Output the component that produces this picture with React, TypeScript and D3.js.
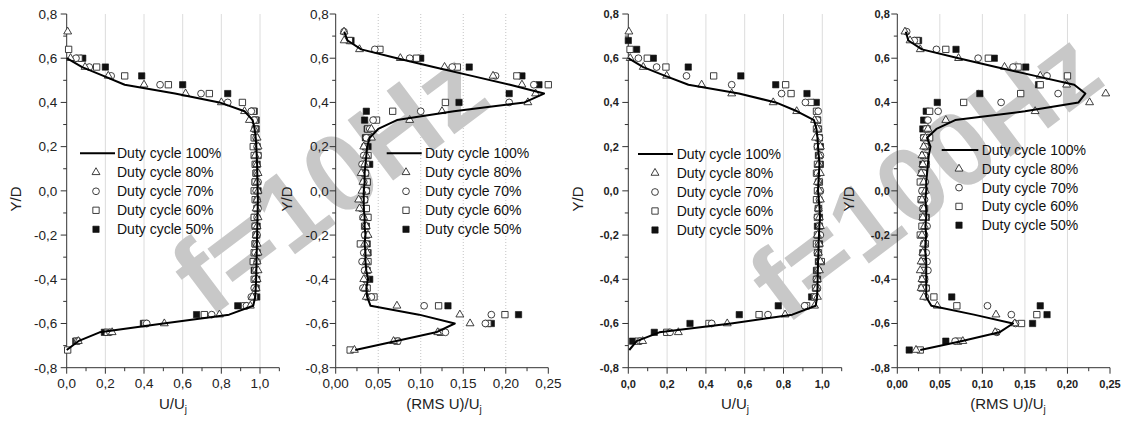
import React from "react";
import * as d3 from "d3";

// Radial stations Y/D, shared by every profile
const yPositions = [
  0.72, 0.68, 0.64, 0.6, 0.56, 0.52, 0.48, 0.44, 0.4, 0.36, 0.32, 0.28, 0.24,
  0.2, 0.16, 0.12, 0.08, 0.04, 0.0, -0.04, -0.08, -0.12, -0.16, -0.2, -0.24,
  -0.28, -0.32, -0.36, -0.4, -0.44, -0.48, -0.52, -0.56, -0.6, -0.64, -0.68, -0.72,
];

const seriesLabels = [
  "Duty cycle 100%",
  "Duty cycle 80%",
  "Duty cycle 70%",
  "Duty cycle 60%",
  "Duty cycle 50%",
];

// f = 10 Hz, mean velocity U/Uj
const u10Dc100 = [null, null, null, 0.0, 0.08, 0.19, 0.3, 0.56, 0.79, 0.92, 0.962, 0.972, 0.978, 0.981, 0.983, 0.985, 0.986, 0.987, 0.988, 0.989, 0.988, 0.987, 0.986, 0.985, 0.984, 0.983, 0.982, 0.981, 0.98, 0.978, 0.975, 0.965, 0.84, 0.5, 0.17, 0.06, 0.0];
const u10Dc80 = [0.005, null, null, 0.02, 0.095, 0.215, 0.4, 0.615, 0.8, 0.92, 0.945, 0.97, 0.985, 0.99, 0.975, 0.985, 0.99, 0.985, 0.99, 0.985, 0.98, 0.99, 0.985, 0.98, 0.985, 0.99, 0.985, 0.99, 0.985, 0.98, 0.96, 0.95, 0.79, 0.505, 0.235, 0.06, null];
const u10Dc70 = [null, null, null, 0.048, 0.117, 0.23, 0.483, 0.695, 0.833, 0.955, 0.97, 0.975, 0.98, 0.985, 0.99, 0.98, 0.985, 0.99, 0.98, 0.985, 0.99, 0.985, 0.975, 0.985, 0.98, 0.975, 0.985, 0.98, 0.975, 0.97, 0.955, 0.93, 0.75, 0.414, 0.224, 0.057, null];
const u10Dc60 = [null, null, 0.01, 0.064, 0.155, 0.3, 0.526, 0.738, 0.909, 0.965, 0.975, 0.975, 0.97, 0.965, 0.97, 0.975, 0.98, 0.975, 0.97, 0.975, 0.985, 0.97, 0.975, 0.98, 0.975, 0.97, 0.965, 0.975, 0.97, 0.975, 0.97, 0.92, 0.712, 0.405, 0.21, 0.052, 0.005];
const u10Dc50 = [null, null, null, 0.083, 0.2, 0.388, 0.6, 0.833, null, 0.97, 0.98, 0.98, 0.975, 0.985, 0.99, 0.985, 0.98, 0.975, 0.99, 0.98, 0.985, 0.975, 0.985, 0.98, 0.975, 0.985, 0.97, 0.97, 0.983, 0.98, 0.983, 0.885, 0.672, 0.397, 0.195, 0.047, null];

// f = 10 Hz, turbulence intensity (RMS U)/Uj
const r10Dc100 = [0.01, 0.014, 0.03, 0.072, 0.115, 0.16, 0.205, 0.245, 0.222, 0.139, 0.072, 0.05, 0.04, 0.037, 0.036, 0.035, 0.034, 0.034, 0.033, 0.033, 0.033, 0.034, 0.034, 0.035, 0.034, 0.035, 0.035, 0.036, 0.038, 0.036, 0.037, 0.041, 0.098, 0.14, 0.118, 0.07, 0.023];
const r10Dc80 = [0.0098, 0.01, 0.028, 0.076, 0.128, 0.185, 0.219, 0.235, 0.226, 0.125, 0.087, 0.042, 0.042, 0.033, 0.036, 0.034, 0.03, 0.032, 0.031, 0.027, 0.028, 0.033, 0.036, 0.038, 0.034, 0.037, 0.036, 0.038, 0.033, 0.034, 0.036, 0.072, 0.146, 0.158, 0.12, 0.068, 0.022];
const r10Dc70 = [0.0098, null, 0.046, 0.087, 0.137, 0.188, 0.233, null, 0.204, 0.1, 0.044, 0.04, 0.036, 0.034, 0.033, 0.031, 0.035, 0.033, 0.036, 0.034, 0.03, 0.032, 0.035, 0.034, 0.036, 0.033, 0.031, 0.034, 0.035, 0.032, 0.042, 0.104, 0.183, 0.176, 0.129, 0.073, null];
const r10Dc60 = [null, 0.016, 0.052, 0.095, 0.143, 0.213, 0.25, null, 0.129, 0.067, 0.048, 0.038, 0.037, 0.035, 0.038, 0.036, 0.034, 0.037, 0.035, 0.033, 0.036, 0.038, 0.034, 0.036, 0.029, 0.037, 0.038, 0.035, 0.036, 0.037, 0.045, 0.121, 0.199, 0.179, 0.123, 0.072, 0.017];
const r10Dc50 = [null, 0.018, null, 0.1, 0.157, 0.219, 0.239, 0.204, 0.145, 0.036, 0.034, 0.037, 0.035, 0.038, 0.036, 0.04, 0.035, 0.037, 0.036, 0.034, 0.035, 0.037, 0.036, 0.035, 0.037, 0.038, 0.036, 0.037, 0.04, 0.036, 0.038, 0.132, 0.215, 0.183, null, null, null];

// f = 100 Hz, mean velocity U/Uj
const u100Dc100 = [null, null, null, 0.0, 0.077, 0.19, 0.31, 0.57, 0.76, 0.87, 0.957, 0.97, 0.975, 0.978, 0.982, 0.985, 0.983, 0.98, 0.978, 0.982, 0.986, 0.988, 0.985, 0.983, 0.981, 0.98, 0.978, 0.977, 0.976, 0.975, 0.973, 0.966, 0.845, 0.53, 0.16, 0.043, 0.005];
const u100Dc80 = [0.003, null, null, 0.01, 0.077, 0.198, 0.378, 0.533, 0.747, 0.868, 0.96, 0.975, 0.965, 0.99, 0.985, 0.98, 0.99, 0.975, 0.985, 0.99, 0.98, 0.985, 0.99, 0.975, 0.985, 0.98, 0.99, 0.985, 0.975, 0.97, 0.975, 0.96, 0.808, 0.51, 0.258, 0.074, null];
const u100Dc70 = [null, null, null, 0.052, 0.146, 0.3, 0.533, 0.79, 0.913, 0.979, 0.975, 0.98, 0.985, 0.975, 0.99, 0.985, 0.975, 0.98, 0.99, 0.985, 0.98, 0.975, 0.985, 0.99, 0.98, 0.975, 0.985, 0.98, 0.97, 0.975, 0.965, 0.909, 0.72, 0.43, 0.215, 0.06, null];
const u100Dc60 = [null, null, 0.009, 0.098, 0.194, 0.44, 0.811, 0.839, 0.941, 0.97, 0.975, 0.97, 0.98, 0.975, 0.985, 0.975, 0.97, 0.985, 0.975, 0.97, 0.98, 0.975, 0.985, 0.975, 0.97, 0.98, 0.995, 0.975, 0.97, 0.965, 0.96, 0.919, 0.674, 0.416, 0.198, 0.052, null];
const u100Dc50 = [null, 0.0, 0.043, 0.129, 0.309, 0.58, 0.76, 0.921, 0.969, null, 0.975, 0.98, 0.985, 0.99, 0.98, 0.99, 0.975, 0.98, 0.985, 0.975, 0.98, 0.985, 0.975, 0.98, 0.985, 0.975, 0.98, 0.97, 0.975, 0.97, 0.945, 0.773, 0.572, 0.318, 0.134, 0.022, null];

// f = 100 Hz, turbulence intensity (RMS U)/Uj
const r100Dc100 = [0.01, 0.013, 0.029, 0.072, 0.116, 0.162, 0.208, 0.221, 0.213, 0.15, 0.068, 0.046, 0.035, 0.039, 0.037, 0.036, 0.035, 0.034, 0.034, 0.033, 0.034, 0.034, 0.033, 0.034, 0.033, 0.033, 0.034, 0.034, 0.034, 0.034, 0.034, 0.04, 0.09, 0.136, 0.12, 0.075, 0.027];
const r100Dc80 = [0.009, 0.015, 0.027, 0.072, 0.126, 0.168, 0.199, 0.245, 0.226, 0.162, 0.057, 0.036, 0.033, 0.031, 0.029, 0.03, 0.028, 0.031, 0.033, 0.029, 0.031, 0.03, 0.032, 0.029, 0.031, 0.03, 0.028, 0.027, 0.029, 0.028, 0.031, 0.047, 0.116, 0.138, 0.115, 0.077, 0.022];
const r100Dc70 = [0.011, 0.02, 0.046, 0.095, 0.136, 0.176, null, 0.189, 0.122, 0.048, 0.036, 0.034, 0.031, 0.033, 0.032, 0.034, 0.031, 0.033, 0.029, 0.032, 0.03, 0.033, 0.035, 0.032, 0.031, 0.034, 0.035, 0.036, 0.032, 0.034, 0.033, 0.106, 0.134, 0.139, 0.117, 0.068, null];
const r100Dc60 = [null, 0.023, 0.057, 0.107, 0.142, 0.2, 0.168, 0.145, 0.078, 0.038, null, 0.035, 0.038, 0.033, 0.031, 0.034, 0.029, 0.027, 0.03, 0.028, 0.032, 0.03, 0.029, 0.027, 0.033, 0.031, 0.03, 0.032, 0.03, 0.029, 0.043, 0.07, 0.164, 0.146, null, 0.072, 0.027];
const r100Dc50 = [null, 0.025, 0.069, 0.114, 0.151, null, 0.166, 0.097, 0.047, 0.034, 0.031, 0.03, 0.031, null, 0.032, 0.03, 0.031, null, 0.032, 0.03, 0.031, 0.034, 0.033, 0.031, 0.032, 0.03, 0.031, 0.033, 0.032, 0.034, 0.064, 0.168, 0.176, 0.159, null, 0.057, 0.014];

// Axis ticks
const yMajorTicks = [0.8, 0.6, 0.4, 0.2, 0.0, -0.2, -0.4, -0.6, -0.8];
const yMinorTicks = [0.7, 0.5, 0.3, 0.1, -0.1, -0.3, -0.5, -0.7];
const meanMajorTicks = [0.0, 0.2, 0.4, 0.6, 0.8, 1.0];
const meanMinorTicks = [0.1, 0.3, 0.5, 0.7, 0.9, 1.1];
const rmsMajorTicks = [0.0, 0.05, 0.1, 0.15, 0.2, 0.25];
const rmsMinorTicks = [0.025, 0.075, 0.125, 0.175, 0.225];

const watermarkLabels = ["f=10Hz", "f=100Hz"];

const FONT = "'Liberation Sans', Arial, Helvetica, sans-serif";
const PLOT_TOP = 14;
const PLOT_BOTTOM = 367.7;

type Values = (number | null)[];

interface PanelConfig {
  left: number;
  unitRight: number; // pixel position of the last major tick
  xMax: number;
  lastMajor: number;
  majorTicks: number[];
  minorTicks: number[];
  decimals: number;
  bold: boolean;
  dotted: boolean;
  gridTicks: number[];
  xTitle: string;
  titleX: number;
  yTitleX: number;
  yLabelGap: number;
  series: Values[];
  legend: { x1: number; x2: number; mx: number; tx: number; y0: number; dy: number };
}

const fmt = (v: number, decimals: number) => v.toFixed(decimals).replace(".", ",");

const triPath = d3.symbol().type(d3.symbolTriangle).size(27)() as string;
const cirPath = d3.symbol().type(d3.symbolCircle).size(36)() as string;
const sqPath = d3.symbol().type(d3.symbolSquare).size(40)() as string;

function Marker({ kind, x, y }: { kind: number; x: number; y: number }) {
  const t = `translate(${x},${y})`;
  if (kind === 1) return <path d={triPath} transform={t} fill="#fff" stroke="#2a2a2a" strokeWidth={0.9} />;
  if (kind === 2) return <path d={cirPath} transform={t} fill="#fff" stroke="#2a2a2a" strokeWidth={0.9} />;
  if (kind === 3) return <path d={sqPath} transform={t} fill="#fff" stroke="#2a2a2a" strokeWidth={0.9} />;
  return <path d={sqPath} transform={t} fill="#111" stroke="#111" strokeWidth={0.6} />;
}

function makeScales(p: PanelConfig) {
  const x = d3
    .scaleLinear()
    .domain([0, p.lastMajor])
    .range([p.left, p.unitRight]);
  const y = d3.scaleLinear().domain([-0.8, 0.8]).range([PLOT_BOTTOM, PLOT_TOP]);
  return { x, y };
}

function PanelGrid({ p }: { p: PanelConfig }) {
  const { x, y } = makeScales(p);
  return (
    <g>
      {p.gridTicks.map((t) => (
        <line
          key={t}
          x1={x(t)}
          x2={x(t)}
          y1={y(0.8)}
          y2={y(-0.8)}
          stroke={p.dotted ? "#c4c4c4" : "#dcdcdc"}
          strokeWidth={1}
          strokeDasharray={p.dotted ? "1,2" : undefined}
        />
      ))}
    </g>
  );
}

function Panel({ p }: { p: PanelConfig }) {
  const { x, y } = makeScales(p);
  const points = (vals: Values) =>
    yPositions
      .map((yy, i) => ({ y: yy, v: vals[i] }))
      .filter((d) => d.v !== null) as { y: number; v: number }[];
  const lineGen = d3
    .line<{ y: number; v: number }>()
    .x((d) => x(d.v))
    .y((d) => y(d.y));
  const weight = p.bold ? 700 : 400;
  const tickFont = p.bold ? 11 : 13.5;
  const axisY = y(-0.8);
  const L = p.legend;

  return (
    <g fontFamily={FONT}>
      {/* y axis */}
      <line x1={p.left} x2={p.left} y1={y(0.8)} y2={axisY} stroke="#333" strokeWidth={1} />
      {yMajorTicks.map((t) => (
        <g key={`ym${t}`}>
          <line x1={p.left - 6} x2={p.left} y1={y(t)} y2={y(t)} stroke="#333" />
          <text
            x={p.left - p.yLabelGap}
            y={y(t)}
            dy="0.36em"
            textAnchor="end"
            fontSize={tickFont}
            fontWeight={weight}
            fill="#222"
          >
            {fmt(t, 1)}
          </text>
        </g>
      ))}
      {yMinorTicks.map((t) => (
        <line key={`yn${t}`} x1={p.left - 3.5} x2={p.left} y1={y(t)} y2={y(t)} stroke="#333" />
      ))}
      <text
        transform={`translate(${p.yTitleX},199) rotate(-90)`}
        textAnchor="middle"
        dy="0.36em"
        fontSize={15}
        fill="#222"
      >
        Y/D
      </text>

      {/* x axis */}
      <line x1={p.left} x2={x(p.xMax)} y1={axisY} y2={axisY} stroke="#333" strokeWidth={1} />
      {p.majorTicks.map((t) => (
        <g key={`xm${t}`}>
          <line x1={x(t)} x2={x(t)} y1={axisY} y2={axisY + 6} stroke="#333" />
          <text
            x={x(t)}
            y={388}
            textAnchor="middle"
            fontSize={tickFont}
            fontWeight={weight}
            fill="#222"
          >
            {fmt(t, p.decimals)}
          </text>
        </g>
      ))}
      {p.minorTicks.map((t) => (
        <line key={`xn${t}`} x1={x(t)} x2={x(t)} y1={axisY} y2={axisY + 3.5} stroke="#333" />
      ))}
      <text x={p.titleX} y={408.5} textAnchor="middle" fontSize={15} fill="#222">
        <tspan>{p.xTitle}</tspan>
        <tspan fontSize={10} dy={4}>
          j
        </tspan>
      </text>

      {/* markers: 50 % first, 80 % last, then the 100 % profile on top */}
      {[4, 3, 2, 1].map((k) =>
        points(p.series[k]).map((d, i) => <Marker key={`m${k}-${i}`} kind={k} x={x(d.v)} y={y(d.y)} />)
      )}
      <path d={lineGen(points(p.series[0])) || ""} fill="none" stroke="#000" strokeWidth={2} strokeLinejoin="round" />

      {/* legend */}
      {seriesLabels.map((label, i) => {
        const ry = L.y0 + i * L.dy;
        return (
          <g key={label}>
            {i === 0 ? (
              <line x1={L.x1} x2={L.x2} y1={ry} y2={ry} stroke="#000" strokeWidth={2} />
            ) : (
              <Marker kind={i} x={L.mx} y={ry} />
            )}
            <text x={L.tx} y={ry} dy="0.36em" fontSize={14} fill="#111">
              {label}
            </text>
          </g>
        );
      })}
    </g>
  );
}

const panels: PanelConfig[] = [
  {
    left: 66.7,
    unitRight: 260,
    lastMajor: 1.0,
    xMax: 1.1,
    majorTicks: meanMajorTicks,
    minorTicks: meanMinorTicks,
    decimals: 1,
    bold: false,
    dotted: false,
    gridTicks: meanMajorTicks.slice(1),
    xTitle: "U/U",
    titleX: 173,
    yTitleX: 16,
    yLabelGap: 9.5,
    series: [u10Dc100, u10Dc80, u10Dc70, u10Dc60, u10Dc50],
    legend: { x1: 80, x2: 115, mx: 96, tx: 117, y0: 153.3, dy: 19 },
  },
  {
    left: 335.7,
    unitRight: 548.3,
    lastMajor: 0.25,
    xMax: 0.25,
    majorTicks: rmsMajorTicks,
    minorTicks: rmsMinorTicks,
    decimals: 2,
    bold: false,
    dotted: true,
    gridTicks: rmsMajorTicks.slice(1, 5),
    xTitle: "(RMS U)/U",
    titleX: 444,
    yTitleX: 287,
    yLabelGap: 7,
    series: [r10Dc100, r10Dc80, r10Dc70, r10Dc60, r10Dc50],
    legend: { x1: 386.7, x2: 421.7, mx: 406, tx: 425, y0: 153.3, dy: 19 },
  },
  {
    left: 628.3,
    unitRight: 822.3,
    lastMajor: 1.0,
    xMax: 1.1,
    majorTicks: meanMajorTicks,
    minorTicks: meanMinorTicks,
    decimals: 1,
    bold: true,
    dotted: false,
    gridTicks: meanMajorTicks.slice(1),
    xTitle: "U/U",
    titleX: 735,
    yTitleX: 578,
    yLabelGap: 9.5,
    series: [u100Dc100, u100Dc80, u100Dc70, u100Dc60, u100Dc50],
    legend: { x1: 638, x2: 673, mx: 655, tx: 676.7, y0: 154, dy: 19 },
  },
  {
    left: 897.3,
    unitRight: 1110,
    lastMajor: 0.25,
    xMax: 0.25,
    majorTicks: rmsMajorTicks,
    minorTicks: rmsMinorTicks,
    decimals: 2,
    bold: true,
    dotted: false,
    gridTicks: rmsMajorTicks.slice(1, 5),
    xTitle: "(RMS U)/U",
    titleX: 1008,
    yTitleX: 849,
    yLabelGap: 7.5,
    series: [r100Dc100, r100Dc80, r100Dc70, r100Dc60, r100Dc50],
    legend: { x1: 941.7, x2: 978.3, mx: 959, tx: 981.7, y0: 150, dy: 18.8 },
  },
];

const watermarks = [
  { label: watermarkLabels[0], x: 328, y: 180, size: 110 },
  { label: watermarkLabels[1], x: 924, y: 174, size: 106 },
];

export default function App() {
  return (
    <svg
      width={1125}
      height={421}
      style={{ position: "absolute", left: 0, top: 0, display: "block" }}
      fontFamily={FONT}
    >
      <rect width={1125} height={421} fill="#fff" />
      {panels.map((p, i) => (
        <PanelGrid key={`g${i}`} p={p} />
      ))}
      {watermarks.map((w) => (
        <text
          key={w.label}
          x={w.x}
          y={w.y}
          transform={`rotate(-37 ${w.x} ${w.y})`}
          textAnchor="middle"
          dy="0.36em"
          fontSize={w.size}
          fontWeight={700}
          fill="#c8c8c8"
        >
          {w.label}
        </text>
      ))}
      {panels.map((p, i) => (
        <Panel key={`p${i}`} p={p} />
      ))}
    </svg>
  );
}
